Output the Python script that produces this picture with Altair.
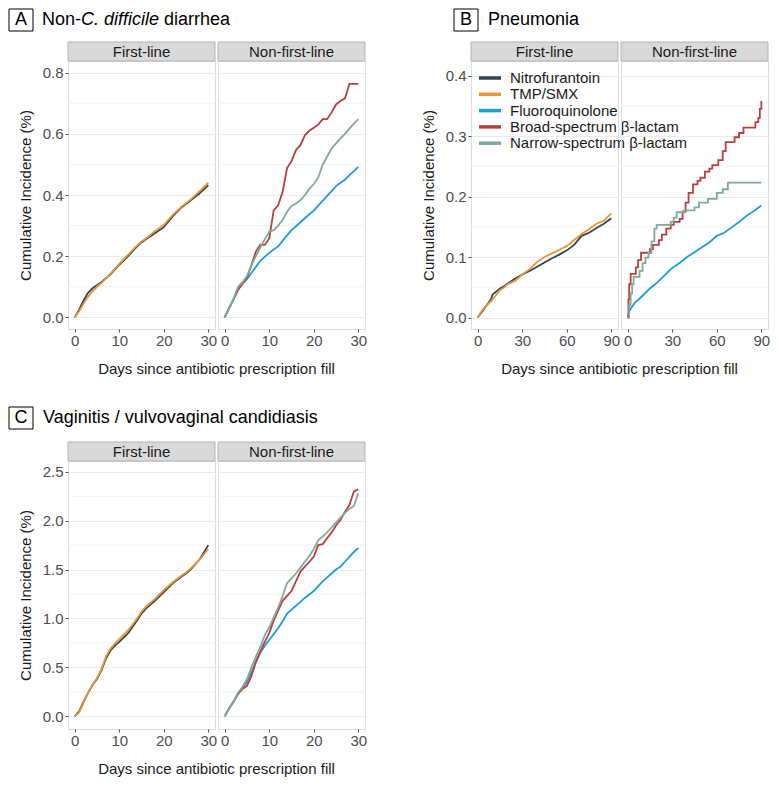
import altair as alt
import pandas as pd

FONT = "Liberation Sans"
SERIES = ["Nitrofurantoin", "TMP/SMX", "Fluoroquinolone",
          "Broad-spectrum β-lactam", "Narrow-spectrum β-lactam"]
COLORS = ["#36454f", "#e8963a", "#1d9dd6", "#b5403e", "#7faa98"]

DAYS30 = [0, 1, 2, 3, 4, 5, 6, 7, 8, 9, 10, 11, 12, 13, 14, 15, 16, 17, 18, 19,
          20, 21, 22, 23, 24, 25, 26, 27, 28, 29, 30]

# ---- A: Non-C. difficile diarrhea ----
A_fl_days = [0, 1, 2, 3, 4, 5, 6, 8, 10, 12, 14, 15, 16, 18, 20, 22, 24, 26, 28, 30]
A_fl_nitro = [0, 0.025, 0.055, 0.08, 0.095, 0.105, 0.115, 0.14, 0.172, 0.2, 0.232,
              0.245, 0.255, 0.275, 0.295, 0.33, 0.36, 0.382, 0.405, 0.432]
A_fl_tmp = [0, 0.02, 0.045, 0.068, 0.085, 0.1, 0.112, 0.142, 0.175, 0.205, 0.235,
            0.248, 0.258, 0.282, 0.302, 0.335, 0.362, 0.385, 0.412, 0.44]
A_nfl_fq = [0, 0.03, 0.06, 0.09, 0.11, 0.125, 0.145, 0.165, 0.185, 0.198,
            0.211, 0.222, 0.232, 0.25, 0.268, 0.285, 0.298, 0.311, 0.324, 0.337,
            0.349, 0.365, 0.381, 0.397, 0.413, 0.429, 0.44, 0.45, 0.465, 0.478, 0.492]
A_nfl_broad = [0, 0.03, 0.06, 0.09, 0.11, 0.13, 0.17, 0.215, 0.238, 0.237,
               0.258, 0.35, 0.366, 0.41, 0.488, 0.51, 0.547, 0.563, 0.595, 0.61,
               0.62, 0.63, 0.648, 0.648, 0.67, 0.696, 0.707, 0.716, 0.763, 0.763, 0.763]
A_nfl_narrow = [0, 0.03, 0.06, 0.1, 0.115, 0.135, 0.17, 0.2, 0.23, 0.255,
                0.28, 0.285, 0.3, 0.318, 0.345, 0.364, 0.372, 0.383, 0.399, 0.42,
                0.436, 0.457, 0.499, 0.526, 0.552, 0.569, 0.585, 0.6, 0.617, 0.633, 0.648]

# ---- B: Pneumonia ----
B_fl_days = [0, 3, 6, 9, 10, 12, 15, 18, 20, 25, 30, 35, 40, 45, 50, 55, 60, 65, 70, 75, 80, 85, 90]
B_fl_nitro = [0, 0.01, 0.02, 0.03, 0.038, 0.042, 0.048, 0.052, 0.056, 0.064, 0.071, 0.077,
              0.084, 0.091, 0.098, 0.104, 0.111, 0.12, 0.135, 0.14, 0.148, 0.155, 0.164]
B_fl_tmp = [0, 0.012, 0.02, 0.027, 0.03, 0.036, 0.045, 0.05, 0.055, 0.06, 0.071, 0.08,
            0.092, 0.1, 0.106, 0.112, 0.118, 0.128, 0.138, 0.146, 0.155, 0.16, 0.172]
B_fq_days = [0, 1, 3, 5, 7, 10, 15, 20, 25, 30, 35, 40, 45, 50, 55, 60, 65, 70, 75, 80, 85, 90]
B_nfl_fq = [0, 0.01, 0.018, 0.025, 0.029, 0.036, 0.048, 0.058, 0.07, 0.082, 0.09, 0.1,
            0.108, 0.116, 0.124, 0.135, 0.14, 0.149, 0.158, 0.168, 0.176, 0.185]
B_broad_days = [0, 0.5, 1, 2, 5.5, 7, 9, 15, 17, 21, 23, 26, 29, 31, 35, 37, 39, 41, 44, 47,
                49, 52, 55, 57, 61, 64, 66, 72, 75, 78, 86, 88, 89, 90]
B_nfl_broad = [0, 0.03, 0.055, 0.072, 0.083, 0.095, 0.107, 0.113, 0.12, 0.128,
               0.137, 0.147, 0.153, 0.158, 0.163, 0.175, 0.19, 0.206, 0.22, 0.226,
               0.231, 0.241, 0.246, 0.252, 0.26, 0.275, 0.29, 0.298, 0.305, 0.314,
               0.323, 0.33, 0.345, 0.358]
B_narrow_days = [0, 1, 2, 3, 4, 8, 10, 12, 14, 16, 18, 19.5, 29, 31, 33, 38, 45, 48, 54, 60,
                 64, 67.5, 90]
B_nfl_narrow = [0, 0.02, 0.04, 0.055, 0.067, 0.077, 0.09, 0.099, 0.107, 0.126, 0.147, 0.153,
                0.158, 0.165, 0.174, 0.177, 0.182, 0.19, 0.196, 0.206, 0.212, 0.223, 0.223]

# ---- C: Vaginitis / vulvovaginal candidiasis ----
C_fl_days = [0, 1, 2, 3, 4, 5, 6, 7, 8, 9, 10, 12, 14, 15, 16, 18, 20, 22, 24, 25, 26, 28, 30]
C_fl_nitro = [0, 0.05, 0.15, 0.24, 0.32, 0.38, 0.47, 0.59, 0.67, 0.72, 0.76, 0.85, 0.98,
              1.05, 1.1, 1.18, 1.27, 1.36, 1.43, 1.46, 1.5, 1.6, 1.75]
C_fl_tmp = [0, 0.04, 0.14, 0.24, 0.32, 0.39, 0.48, 0.61, 0.69, 0.74, 0.79, 0.88, 1.0,
            1.07, 1.12, 1.2, 1.29, 1.37, 1.44, 1.47, 1.51, 1.6, 1.71]
C_nfl_fq = [0, 0.08, 0.15, 0.23, 0.29, 0.35, 0.45, 0.55, 0.65, 0.72,
            0.78, 0.84, 0.9, 0.97, 1.05, 1.09, 1.13, 1.17, 1.21, 1.245,
            1.28, 1.33, 1.38, 1.42, 1.46, 1.5, 1.53, 1.58, 1.63, 1.68, 1.72]
C_nfl_broad = [0, 0.08, 0.15, 0.23, 0.28, 0.31, 0.41, 0.56, 0.66, 0.76,
               0.85, 0.98, 1.08, 1.18, 1.23, 1.28, 1.38, 1.48, 1.53, 1.58,
               1.63, 1.75, 1.76, 1.82, 1.88, 1.95, 2.01, 2.09, 2.16, 2.3, 2.32]
C_nfl_narrow = [0, 0.08, 0.15, 0.24, 0.3, 0.38, 0.5, 0.61, 0.71, 0.83,
                0.91, 1.01, 1.11, 1.23, 1.36, 1.41, 1.46, 1.52, 1.58, 1.64,
                1.71, 1.8, 1.84, 1.88, 1.93, 1.98, 2.03, 2.08, 2.12, 2.15, 2.28]

X30_TICKS = [0, 10, 20, 30]
X90_TICKS = [0, 30, 60, 90]
A_YMAJ = [0, 0.2, 0.4, 0.6, 0.8]
A_YMIN = [0.1, 0.3, 0.5, 0.7]
B_YMAJ = [0, 0.1, 0.2, 0.3, 0.4]
B_YMIN = [0.05, 0.15, 0.25, 0.35]
C_YMAJ = [0, 0.5, 1.0, 1.5, 2.0, 2.5]
C_YMIN = [0.25, 0.75, 1.25, 1.75, 2.25]

W, H = 147, 268
ONE = pd.DataFrame({"d": [0]})
LABEL_COL = "#4d4d4d"


def xenc(dom, ticks):
    return alt.X("x:Q", scale=alt.Scale(domain=dom, nice=False, zero=False),
                 axis=alt.Axis(values=ticks, format="d", grid=False, domain=False,
                               tickSize=3, tickColor=LABEL_COL, labelFontSize=15,
                               labelColor=LABEL_COL, labelPadding=1, labelFlush=False,
                               labelFont=FONT, title=None))


def yenc(dom, majors, show):
    if show:
        ax = alt.Axis(values=majors, format=".1f", grid=True, gridColor="#ebebeb",
                      domain=False, tickSize=3, tickColor=LABEL_COL, labelFontSize=15,
                      labelColor=LABEL_COL, labelPadding=2, labelFlush=False,
                      labelFont=FONT, title="Cumulative Incidence (%)",
                      titleFontSize=15, titleFontWeight="normal", titleColor="#1a1a1a",
                      titleFont=FONT, titlePadding=9)
    else:
        ax = alt.Axis(values=majors, grid=True, gridColor="#ebebeb", domain=False,
                      labels=False, ticks=False, title=None)
    return alt.Y("y:Q", scale=alt.Scale(domain=dom, nice=False, zero=False), axis=ax)


def text(t, x, y, size=15, align="center", style="normal", color="#1a1a1a"):
    return alt.Chart(ONE).mark_text(text=t, fontSize=size, align=align, baseline="middle",
                                    font=FONT, fontStyle=style, color=color).encode(
        x=alt.value(x), y=alt.value(y))


def strip(label):
    r = alt.Chart(ONE).mark_rect(fill="#d9d9d9", stroke="#b3b3b3", strokeWidth=1).encode(
        x=alt.value(0), x2=alt.value(W), y=alt.value(-19), y2=alt.value(0))
    return [r, text(label, W / 2, -9.5)]


def title_box(letter, bx, by):
    r = alt.Chart(ONE).mark_rect(fill="white", stroke="black", strokeWidth=1).encode(
        x=alt.value(bx), x2=alt.value(bx + 24), y=alt.value(by), y2=alt.value(by + 22))
    return [r, text(letter, bx + 12, by + 11, size=18, color="black")]


def panel(lines, xdom, xticks, ydom, ymaj, ymin, show_y, label, extra=()):
    X = xenc(xdom, xticks)
    Y = yenc(ydom, ymaj, show_y)
    layers = [alt.Chart(pd.DataFrame({"y": ymin})).mark_rule(
        color="#f3f3f3", strokeWidth=1).encode(y=Y)]
    for xs, ys, col, interp in lines:
        df = pd.DataFrame({"x": xs, "y": ys})
        layers.append(alt.Chart(df).mark_line(color=col, strokeWidth=1.8,
                                              interpolate=interp).encode(x=X, y=Y))
    layers += strip(label)
    layers += list(extra)
    return alt.layer(*layers).properties(width=W, height=H)


XT = "Days since antibiotic prescription fill"
xtitle = text(XT, W + 1.5, H + 40)

# Panel A
A_title = title_box("A", -59, -52) + [
    text("Non-", -26, -41, size=18, align="left", color="black"),
    text("C. difficile", -26 + 39.0, -41, size=18, align="left", style="italic", color="black"),
    text("diarrhea", -26 + 39.0 + 78.0 + 5.0, -41, size=18, align="left", color="black"),
]
A1 = panel([(A_fl_days, A_fl_nitro, COLORS[0], "linear"),
            (A_fl_days, A_fl_tmp, COLORS[1], "linear")],
           [-1.5, 31.5], X30_TICKS, [-0.038, 0.838], A_YMAJ, A_YMIN, True, "First-line",
           A_title + [xtitle])
A2 = panel([(DAYS30, A_nfl_fq, COLORS[2], "linear"),
            (DAYS30, A_nfl_broad, COLORS[3], "linear"),
            (DAYS30, A_nfl_narrow, COLORS[4], "linear")],
           [-1.5, 31.5], X30_TICKS, [-0.038, 0.838], A_YMAJ, A_YMIN, False, "Non-first-line")

# Legend (inside panel B, first-line)
legend = []
for i, (name, col) in enumerate(zip(SERIES, COLORS)):
    yy = 17 + i * 16.3
    legend.append(alt.Chart(ONE).mark_rule(color=col, strokeWidth=3.5).encode(
        x=alt.value(8), x2=alt.value(30), y=alt.value(yy)))
    legend.append(text(name, 39, yy, size=15, align="left", color="#1a1a1a"))

B_title = title_box("B", -17, -52) + [
    text("Pneumonia", 17, -41, size=18, align="left", color="black")]
B1 = panel([(B_fl_days, B_fl_nitro, COLORS[0], "linear"),
            (B_fl_days, B_fl_tmp, COLORS[1], "linear")],
           [-4.5, 94.5], X90_TICKS, [-0.019, 0.424], B_YMAJ, B_YMIN, True, "First-line",
           B_title + legend + [xtitle])
B2 = panel([(B_fq_days, B_nfl_fq, COLORS[2], "linear"),
            (B_broad_days, B_nfl_broad, COLORS[3], "step-after"),
            (B_narrow_days, B_nfl_narrow, COLORS[4], "step-after")],
           [-4.5, 94.5], X90_TICKS, [-0.019, 0.424], B_YMAJ, B_YMIN, False, "Non-first-line")

# Panel C
C_title = title_box("C", -59, -54) + [
    text("Vaginitis / vulvovaginal candidiasis", -25, -43, size=18, align="left", color="black")]
C1 = panel([(C_fl_days, C_fl_nitro, COLORS[0], "linear"),
            (C_fl_days, C_fl_tmp, COLORS[1], "linear")],
           [-1.5, 31.5], X30_TICKS, [-0.13, 2.61], C_YMAJ, C_YMIN, True, "First-line",
           C_title + [xtitle])
C2 = panel([(DAYS30, C_nfl_fq, COLORS[2], "linear"),
            (DAYS30, C_nfl_broad, COLORS[3], "linear"),
            (DAYS30, C_nfl_narrow, COLORS[4], "linear")],
           [-1.5, 31.5], X30_TICKS, [-0.13, 2.61], C_YMAJ, C_YMIN, False, "Non-first-line")

spacer = alt.Chart(ONE).mark_point(opacity=0).encode(
    x=alt.X("d:Q", axis=None), y=alt.Y("d:Q", axis=None)
).properties(width=100, height=H, view=alt.ViewBackground(stroke="transparent"))

chart = alt.concat(A1, A2, spacer, B1, B2, C1, C2, columns=5,
                   spacing={"row": 132, "column": 3}, bounds="flush").resolve_scale(
    x="independent", y="independent"
).properties(padding=0).configure_view(stroke="#b3b3b3", strokeWidth=1).configure(font=FONT)

chart.save("out.html", embed_options={"renderer": "svg", "actions": False})
